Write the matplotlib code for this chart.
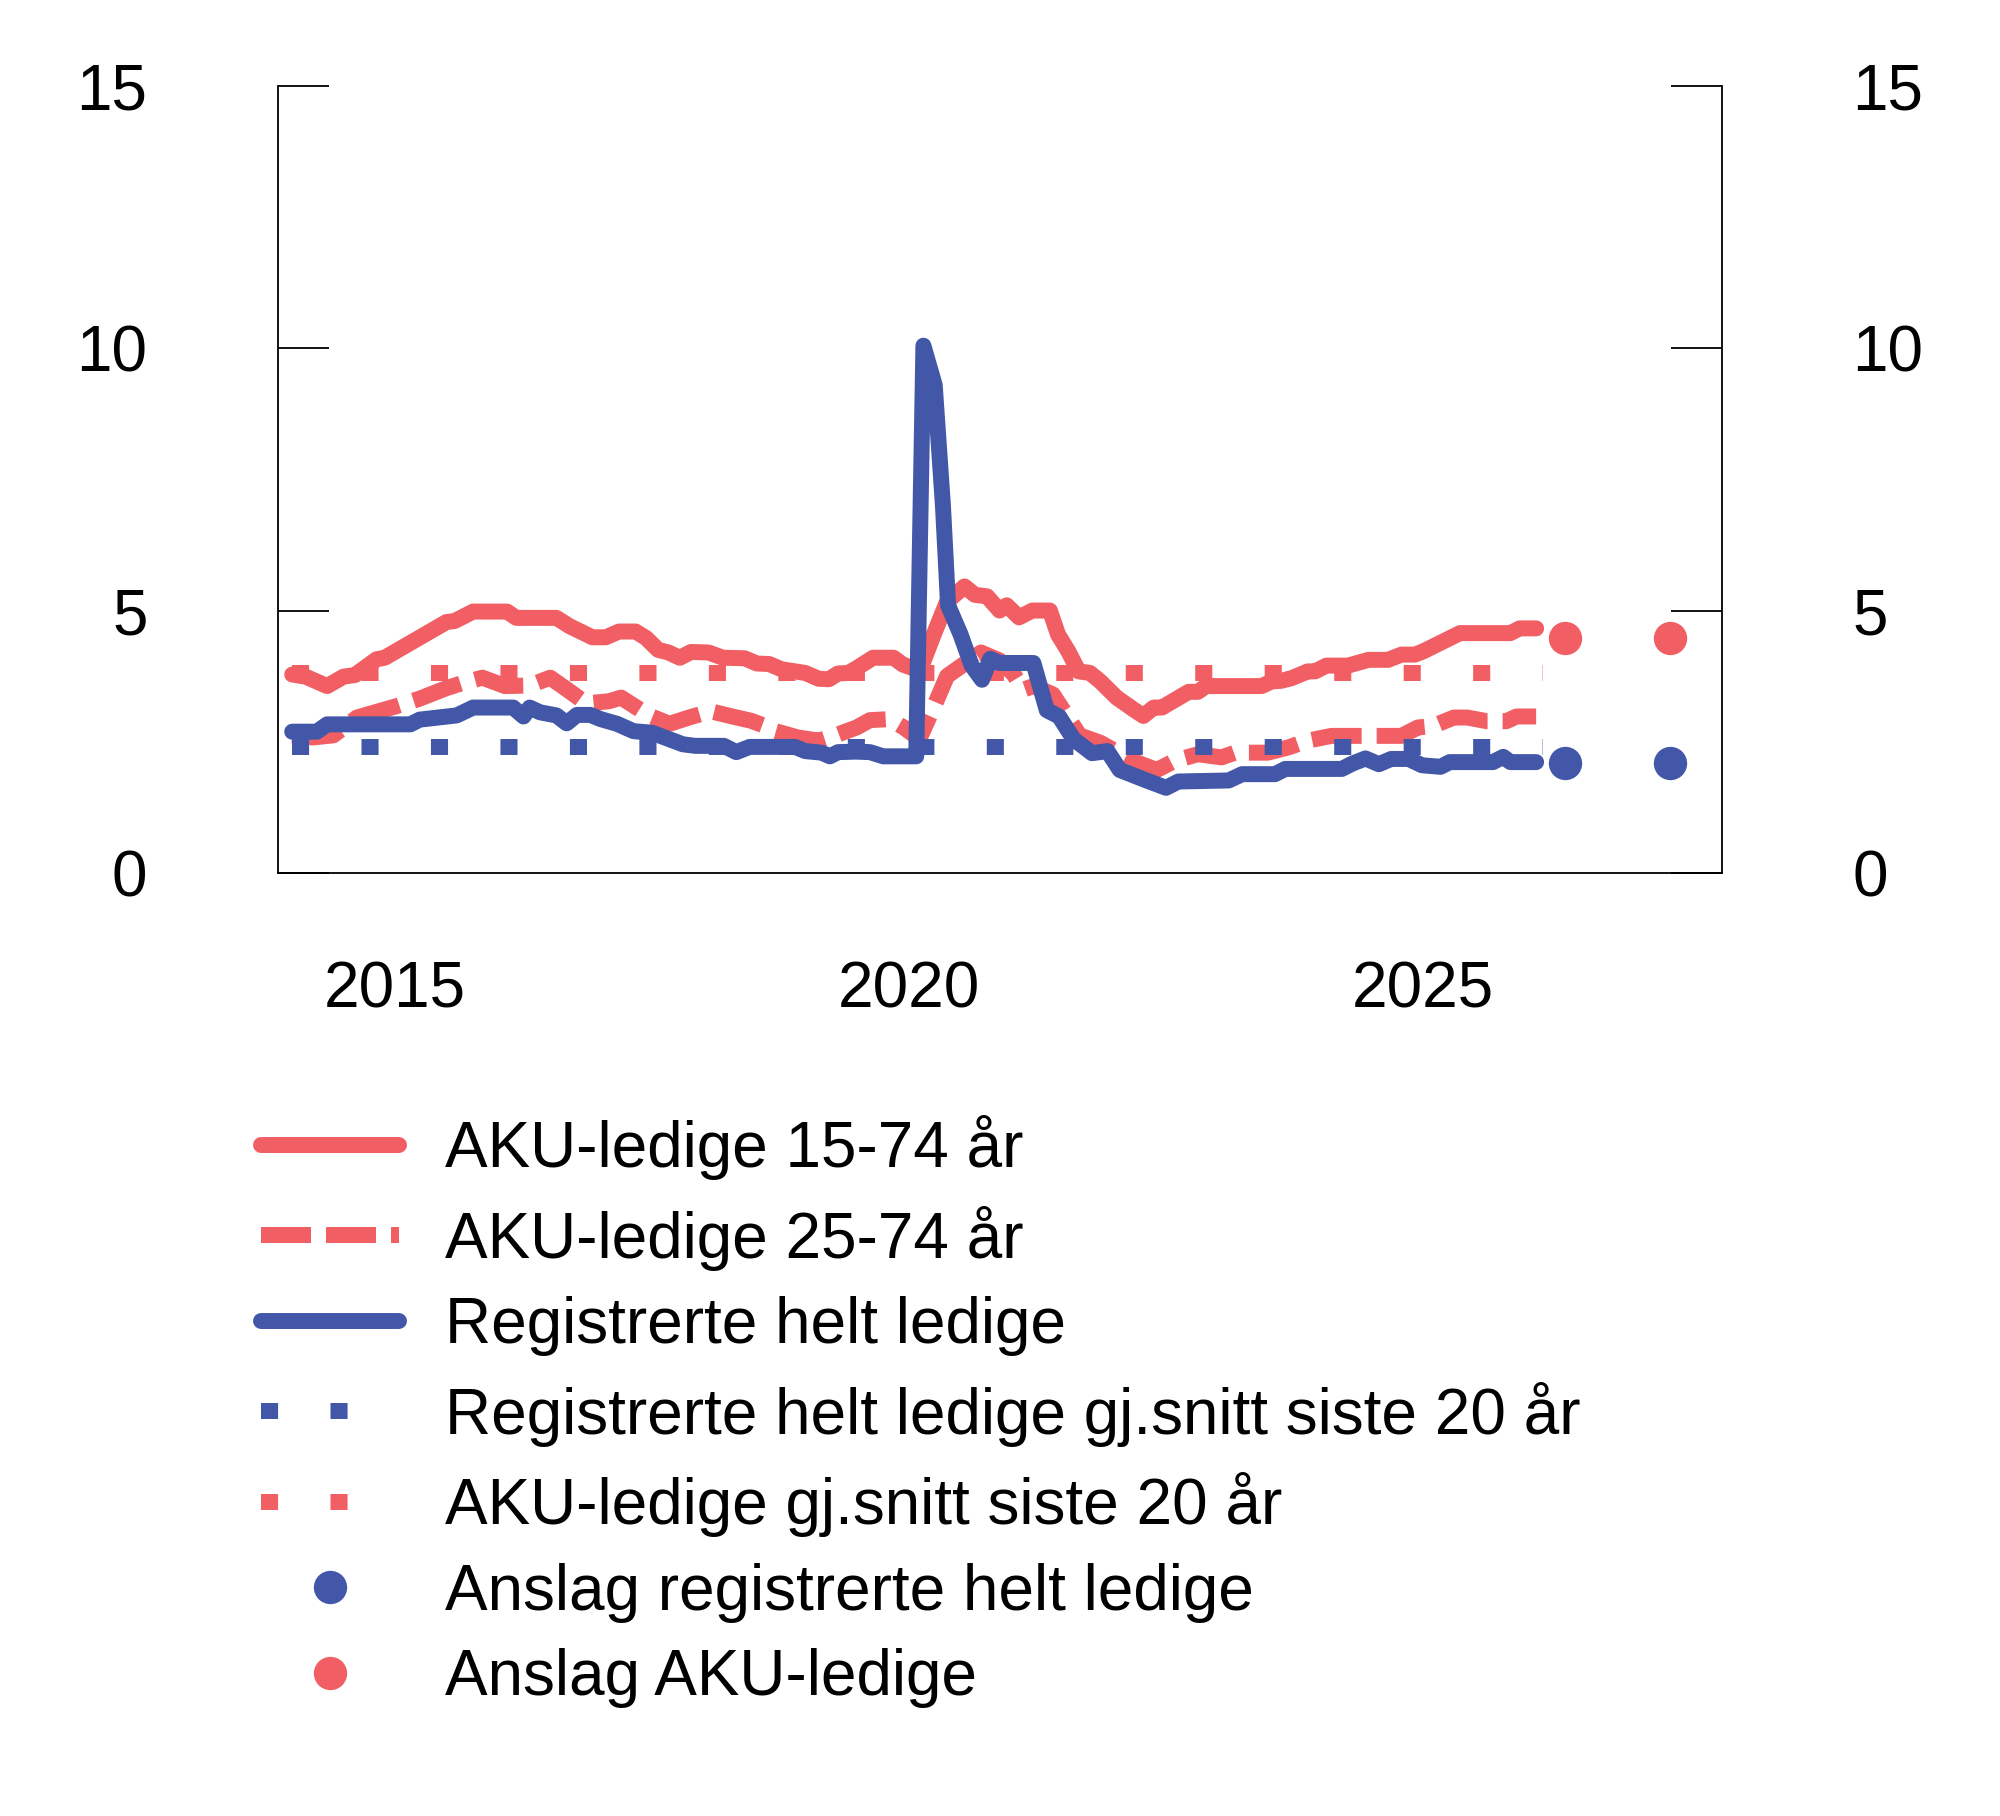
import matplotlib
matplotlib.use("Agg")
import numpy as np
import matplotlib.pyplot as plt

plt.rcParams['font.family'] = ['Liberation Sans', 'DejaVu Sans']

RED = '#F15E63'
BLUE = '#4257A7'

# AKU-ledige 15-74 år (year, percent)
aku_x = [2014.0, 2014.13, 2014.34, 2014.5, 2014.61, 2014.82, 2014.9, 2015.5, 2015.58, 2015.76,
         2016.09, 2016.18, 2016.57, 2016.7, 2016.92, 2017.05, 2017.18, 2017.34, 2017.44, 2017.56,
         2017.66, 2017.77, 2017.88, 2018.05, 2018.19, 2018.4, 2018.52, 2018.64, 2018.76, 2018.99,
         2019.12, 2019.22, 2019.31, 2019.41, 2019.49, 2019.65, 2019.85, 2019.94, 2020.04, 2020.11,
         2020.24, 2020.37, 2020.54, 2020.64, 2020.76, 2020.88, 2020.95, 2021.07, 2021.2, 2021.37,
         2021.45, 2021.55, 2021.65, 2021.76, 2021.86, 2022.02, 2022.18, 2022.28, 2022.38, 2022.46,
         2022.72, 2022.81, 2022.89, 2023.43, 2023.53, 2023.62, 2023.72, 2023.88, 2023.95, 2024.06,
         2024.27, 2024.47, 2024.66, 2024.79, 2024.92, 2025.0, 2025.36, 2025.85, 2025.94, 2026.1]
aku_y = [3.78, 3.74, 3.56, 3.74, 3.77, 4.07, 4.10, 4.78, 4.80, 4.98,
         4.98, 4.86, 4.86, 4.70, 4.49, 4.49, 4.60, 4.60, 4.48, 4.25,
         4.20, 4.10, 4.21, 4.20, 4.10, 4.09, 3.99, 3.98, 3.88, 3.81,
         3.70, 3.69, 3.80, 3.81, 3.90, 4.10, 4.10, 3.97, 3.90, 3.88,
         4.54, 5.17, 5.46, 5.30, 5.27, 5.00, 5.10, 4.87, 5.00, 5.00,
         4.54, 4.22, 3.84, 3.81, 3.65, 3.34, 3.12, 2.99, 3.15, 3.15,
         3.45, 3.45, 3.56, 3.56, 3.65, 3.66, 3.71, 3.84, 3.84, 3.95,
         3.95, 4.06, 4.06, 4.16, 4.16, 4.22, 4.57, 4.57, 4.66, 4.66]

# AKU-ledige 25-74 år
aku25_x = [2014.0, 2014.2, 2014.4, 2014.63, 2015.02, 2015.24, 2015.5, 2015.66, 2015.85, 2016.07,
           2016.31, 2016.51, 2016.67, 2016.86, 2017.08, 2017.2, 2017.47, 2017.67, 2017.86, 2018.07,
           2018.28, 2018.46, 2018.6, 2018.7, 2018.92, 2019.12, 2019.31, 2019.49, 2019.62, 2019.81,
           2019.95, 2020.1, 2020.25, 2020.37, 2020.55, 2020.7, 2020.88, 2021.02, 2021.11, 2021.21,
           2021.4, 2021.66, 2021.86, 2022.18, 2022.41, 2022.59, 2022.81, 2023.04, 2023.17, 2023.49,
           2023.69, 2023.88, 2024.11, 2024.79, 2024.95, 2025.1, 2025.3, 2025.43, 2025.62, 2025.81,
           2025.91, 2026.1]
aku25_y = [2.62, 2.58, 2.62, 2.96, 3.18, 3.32, 3.52, 3.62, 3.72, 3.56,
           3.57, 3.72, 3.50, 3.23, 3.27, 3.34, 3.00, 2.84, 2.96, 3.08,
           2.98, 2.90, 2.80, 2.70, 2.58, 2.52, 2.64, 2.77, 2.91, 2.93,
           2.77, 2.55, 3.20, 3.75, 4.00, 4.20, 4.05, 3.78, 3.49, 3.56,
           3.40, 2.62, 2.48, 2.13, 1.96, 2.14, 2.26, 2.20, 2.29, 2.29,
           2.39, 2.52, 2.61, 2.61, 2.77, 2.80, 2.96, 2.96, 2.89, 2.89,
           2.98, 2.98]

# Registrerte helt ledige
reg_x = [2014.0, 2014.24, 2014.34, 2015.15, 2015.24, 2015.42, 2015.6, 2015.76, 2016.15, 2016.25,
         2016.31, 2016.41, 2016.57, 2016.67, 2016.77, 2016.9, 2017.0, 2017.16, 2017.32, 2017.5,
         2017.65, 2017.8, 2017.92, 2018.2, 2018.32, 2018.45, 2018.89, 2018.99, 2019.15, 2019.23,
         2019.31, 2019.48, 2019.62, 2019.75, 2020.07, 2020.14, 2020.25, 2020.33, 2020.38, 2020.5,
         2020.61, 2020.71, 2020.79, 2020.88, 2021.21, 2021.34, 2021.46, 2021.6, 2021.78, 2021.93,
         2022.05, 2022.31, 2022.5, 2022.62, 2023.11, 2023.24, 2023.56, 2023.66, 2024.21, 2024.31,
         2024.44, 2024.57, 2024.69, 2024.86, 2024.99, 2025.17, 2025.26, 2025.68, 2025.78, 2025.85,
         2026.1]
reg_y = [2.69, 2.69, 2.83, 2.83, 2.92, 2.96, 3.00, 3.15, 3.15, 2.98,
         3.15, 3.06, 3.00, 2.85, 3.01, 3.01, 2.93, 2.84, 2.70, 2.67,
         2.56, 2.45, 2.42, 2.42, 2.30, 2.40, 2.40, 2.32, 2.29, 2.22,
         2.30, 2.31, 2.30, 2.22, 2.22, 10.05, 9.30, 7.00, 5.10, 4.55,
         3.95, 3.68, 4.08, 4.00, 4.00, 3.10, 2.98, 2.55, 2.28, 2.32,
         1.96, 1.76, 1.62, 1.74, 1.76, 1.88, 1.88, 1.98, 1.98, 2.08,
         2.18, 2.07, 2.17, 2.17, 2.05, 2.02, 2.11, 2.11, 2.21, 2.11,
         2.11]

# gjennomsnitt siste 20 år
avg_x = [2014.0, 2026.17]
reg_avg = 2.40
aku_avg = 3.80

# anslag
anslag_x = [2026.38, 2027.4]
anslag_reg = [2.10, 2.10]
anslag_aku = [4.48, 4.48]

LW = 11.5
FS = 46

fig = plt.figure(figsize=(20, 18.16), dpi=100)
ax = fig.add_axes([0.139, 0.5194, 0.722, 0.4332])

ax.plot(aku25_x, aku25_y, color=RED, lw=LW, dashes=(3.13, 0.94), dash_capstyle='butt',
        label='AKU-ledige 25-74 år')
ax.plot(aku_x, aku_y, color=RED, lw=LW, solid_capstyle='round', solid_joinstyle='round',
        label='AKU-ledige 15-74 år')
ax.plot(avg_x, [aku_avg] * 2, color=RED, lw=LW, dashes=(1.07, 3.28), dash_capstyle='butt',
        label='AKU-ledige gj.snitt siste 20 år')
ax.plot(avg_x, [reg_avg] * 2, color=BLUE, lw=LW, dashes=(1.07, 3.28), dash_capstyle='butt',
        label='Registrerte helt ledige gj.snitt siste 20 år')
ax.plot(reg_x, reg_y, color=BLUE, lw=LW, solid_capstyle='round', solid_joinstyle='round',
        label='Registrerte helt ledige')
ax.plot(anslag_x, anslag_reg, ls='none', marker='o', ms=24, color=BLUE, mec='none',
        label='Anslag registrerte helt ledige')
ax.plot(anslag_x, anslag_aku, ls='none', marker='o', ms=24, color=RED, mec='none',
        label='Anslag AKU-ledige')

ax.set_xlim(2013.862, 2027.908)
ax.set_ylim(0, 15)
ax.set_yticks([0, 5, 10, 15])
ax.set_xticks([2015, 2020, 2025])
ax.tick_params(axis='y', direction='in', length=37, width=1.3, pad=94, labelsize=FS,
               right=True, labelright=True)
ax.tick_params(axis='x', length=0, pad=63, labelsize=FS)
ax.spines['top'].set_visible(False)
for s in ['left', 'right', 'bottom']:
    ax.spines[s].set_linewidth(1.3)

h, l = ax.get_legend_handles_labels()
order = [1, 0, 4, 3, 2, 5, 6]
fig.legend([h[i] for i in order], [l[i] for i in order], loc='upper left',
           bbox_to_anchor=(0.1305, 0.386), frameon=False, fontsize=FS,
           handlelength=2.16, handletextpad=0.72, labelspacing=0.40,
           borderpad=0, borderaxespad=0, numpoints=1)

fig.savefig('out.png', dpi=100, facecolor='white')
